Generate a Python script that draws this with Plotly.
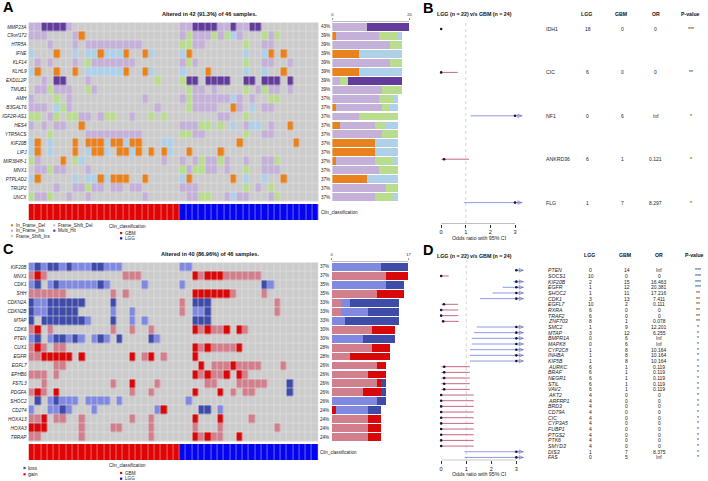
import plotly.graph_objects as go

W, H = 708, 481
FONT = "Liberation Sans"

# ---------- Panel A data ----------
GENES_A = ["MMP23A","C9orf172","HTR5A","IFNE","KLF14","KLHL9","EXD1L2P","TMUB1","AMH","B3GALT6",
           "IGF2R-AS1","HES4","YTR5ACS","KIF20B","LIPJ","MIR3648-1","MNX1","PTPLAD2","TRI1P2","UNCX"]
PCT_A = ["43%","39%","39%","39%","39%","39%","39%","39%","37%","37%","37%","37%","37%","37%","37%","37%","37%","37%","37%","37%"]
# D In_Frame_Del, I In_Frame_Ins, S Frame_Shift_Ins, F Frame_Shift_Del, M Multi_Hit
ONCO_A = [
 "I:0,1,6,24,25,30,31,33,34 M:2-5,26-29,32,35,36",
 "I:0-2,7,24,26-28,30,33,38 D:8 S:25,29,31,37,39 F:32",
 "I:3,7,9-17,26,27,37,38 S:24,25,34",
 "F:0,7,9,10,12-14,19,24,34,37 D:4,11,15,18,25,38,40",
 "I:1,3,7,10-16,24,26,37,38,41 S:9,25,34",
 "F:0,9-14,19,24,34,37 D:1,4,7,15,18,28,40",
 "I:2,9 M:4,5,25,26,28-31,34,35,37-39,41 S:20,24",
 "I:1,2,4-6,10,26,27,29,36,38,39,41 S:3,9,25,34,37",
 "I:0,6,18,24,26-31,33,35 S:4,25,38,39 F:32",
 "I:0-2,6,20,26-29,33,37,38 F:4,35 S:5,25 D:32",
 "S:0,1,4,6,7,12,13,19,21,34 I:3,8,9,11,16,30,31",
 "I:0,2,4,5,24-26,34,38 D:8,41 S:27,28,30 F:32,35,36",
 "S:3,24,25,34 I:9-17,26,27,37,38",
 "F:0,3,12,15,21,22 D:1,7,9-11,13,14,16,17,33,42",
 "F:0,3,9,12,16,22 D:1,7,10,11,14,15,17,19,21,25,30",
 "S:0,7,27,30,39 I:1,21,24,26,28,29,31,34,37,38 D:5 F:8",
 "I:1,2,4,5,9,25,28,29,31,37-39 S:3,24,26,27,34",
 "F:0,7,9,10,12,24,34,37 D:1,11,13-15,18,25,32,40",
 "I:4,7,8,10,11,13,14,16,17,24-26,36 S:9,34,38",
 "S:0,3,27,28,39 I:1,2,6,9,18,25,26,31,33,34,38 F:32",
]
BAR_A_DEL   = [0,1,0,7,0,7,0,0,0,1,0,2,0,11,11,1,0,9,0,0]
BAR_A_INS   = [9,11,15,0,15,0,2,13,12,12,7,9,13,0,0,10,12,0,14,11]
BAR_A_FSI   = [0,5,3,0,3,0,2,5,4,2,10,3,4,0,0,5,5,0,3,5]
BAR_A_FSD   = [0,1,0,11,0,11,0,0,1,2,0,3,0,6,6,1,0,8,0,1]
BAR_A_MULTI = [11,0,0,0,0,0,14,0,0,0,0,0,0,0,0,0,0,0,0,0]

# ---------- Panel C data ----------
GENES_C = ["KIF20B","MNX1","CDK1","SHH","CDKN2A","CDKN2B","MTAP","CDK6","PTEN","CUX1","EGFR","EGFL7",
           "EPHB6","FSTL3","PDGFA","SHOC2","CD274","HOXA13","HOXA3","TRRAP"]
PCT_C = ["37%","37%","35%","35%","33%","33%","33%","30%","30%","28%","28%","26%","26%","26%","26%","26%","24%","24%","24%","24%"]
# b shallow loss, B deep loss, r shallow gain, R deep gain
ONCO_C = [
 "b:0,2,5,7-9,12-14,24,25 B:1,3,4,6,10,11",
 "r:0,2,15-17,27,31-36 R:1,26,28-30",
 "b:0,3,5-10,12,18,24,38 B:1,4,11,37",
 "r:0-5,13,15,32,37 R:26-31",
 "B:0,3-8,13,26-28 b:1,2 r:24,39",
 "B:0,3-7,28 b:1,2,13,16,26,27 r:24,39",
 "B:0,2-8,13,26-28 b:9,16,18",
 "r:0,3,13,16,19,27,29,30,34 R:1,26,28,31,33",
 "b:0,3,6,8,10,12,20 B:1,4,5,7,11,14,19",
 "r:0,2,4,5,27,29-32 R:1,26,28,33",
 "r:0,1,18,21 R:2-6,8,16,19,26",
 "r:4,5,29-31,33-36,40 R:27,32",
 "r:0-2,4,27,29,30,34 R:26,28,31,33",
 "r:2,13,20,28,29,33-37 R:16 B:41",
 "r:0,2,16,19,32,34,35 R:1,4,26,30 B:41",
 "B:1,4 b:3,5-7,9-12,14,25",
 "b:0,3,4,6,10,20,30 B:5,27,28 R:21",
 "r:0,1,4,5,8,16,19,35 R:2,26,30",
 "R:0-2 r:8,13,14,19,26,30,39",
 "r:0,1,8,19,27,29,30 R:26,28,33",
]
BAR_C_R  = [0,12,0,10,2,2,0,9,0,9,4,10,8,10,7,0,0,8,8,8]
BAR_C_RR = [0,5,0,6,0,0,0,5,0,4,9,2,4,1,4,0,1,3,3,3]
BAR_C_B  = [11,0,12,0,2,6,3,0,7,0,0,0,0,0,0,10,7,0,0,0]
BAR_C_BB = [6,0,4,0,11,7,12,0,7,0,0,0,0,1,1,2,3,0,0,0]

CLIN = [0]*24 + [1]*22
N_SAMPLES = 46

# ---------- Panel B data ----------
B_GENE = ["IDH1","CIC","NF1","ANKRD36","FLG"]
B_LGG  = ["18","6","0","6","1"]
B_GBM  = ["0","0","6","1","7"]
B_OR   = ["0","0","Inf","0.121","8.297"]
B_P    = ["***","**","*","*","*"]
B_EST  = [0,0,3,0.12,3]
B_LO   = [0,0,1.2,0,0.92]
B_HI   = [0,0.67,3.3,1.13,3.3]

# ---------- Panel D data ----------
D_GENE = ["PTEN","SOCS1","KIF20B","EGFR","SHOC2","CDK1","EGFL7","RXRA","TRAF2","ZNF703","SMC2","MTAP","BMPR1A",
          "MAPK8","CYP2C8","INHBA","KIF5B","AURKC","BRAF","NEGR1","STIL","VAV2","AKT2","ARFRP1","BRD3","CD79A",
          "CIC","CYP3A5","FUBP1","PTGS2","PTK6","SMYD3","DIS3","FAS"]
D_LGG = [0,10,2,1,1,3,10,6,6,8,1,3,0,0,1,1,1,6,6,6,6,6,4,4,4,4,4,4,4,4,4,4,1,0]
D_GBM = [14,0,15,12,11,13,2,0,0,1,9,12,6,6,8,8,8,1,1,1,1,1,0,0,0,0,0,0,0,0,0,0,7,5]
D_OR  = ["Inf","0","16.463","20.381","17.216","7.411","0.111","0","0","0.078","12.201","6.255","Inf","Inf",
         "10.164","10.164","10.164","0.119","0.119","0.119","0.119","0.119","0","0","0","0","0","0","0","0","0","0","8.375","Inf"]
D_P   = ["***","***","***","***","**","**","**","**","**","**","*","*","*","*","*","*","*","*","*","*","*","*",
         "*","*","*","*","*","*","*","*","*","*","*","*"]
D_EST = [3,0,3,3,3,3,0.11,0,0,0.08,3,3,3,3,3,3,3,0.12,0.12,0.12,0.12,0.12,0,0,0,0,0,0,0,0,0,0,3,3]
D_LO  = [2.98,0,2.88,2.45,2.05,1.55,0.02,0,0,0.03,1.42,1.3,1.22,1.22,1.15,1.15,1.15,0,0,0,0,0,0,0,0,0,0,0,0,0,0,0,0.93,0.93]
D_HI  = [3.3,0.3,3.3,3.3,3.3,3.3,0.67,0.68,0.68,0.7,3.3,3.3,3.3,3.3,3.3,3.3,3.3,1.14,1.14,1.14,1.14,1.14,
         1.3,1.3,1.3,1.3,1.3,1.3,1.3,1.3,1.3,1.3,3.3,3.3]

LEG_A_1 = ["In_Frame_Del","In_Frame_Ins","Frame_Shift_Ins"]
LEG_A_2 = ["Frame_Shift_Del","Multi_Hit"]
LEG_C = ["loss","gain"]
LEG_CLIN = ["GBM","LGG"]

# ---------- Styles ----------
BG = "#cccccc"
COL_A = {"D":"#e8821e","I":"#c4b0d8","S":"#b9dd8e","F":"#aed0e8","M":"#623c9b"}
COL_C = {"b":"#8088e0","B":"#3f4ba8","r":"#d17f8c","R":"#d80808"}
CLIN_COL = ["#e00404","#0404f0"]
TXT = "#222222"

def dx(a, b): return [a / W, b / W]
def dy(top, bottom): return [1 - bottom / H, 1 - top / H]

def expand(spec, codes):
    row = [0] * N_SAMPLES
    for part in spec.split():
        code, idx = part.split(":")
        for it in idx.split(","):
            if "-" in it:
                s, e = it.split("-")
                rng = range(int(s), int(e) + 1)
            else:
                rng = [int(it)]
            for i in rng:
                row[i] = codes.index(code) + 1
    return row

def scale(cols):
    n = len(cols)
    out = []
    for i, c in enumerate(cols):
        out += [[i / n, c], [(i + 1) / n, c]]
    return out

fig = go.Figure()
layout = {}
annos = []
shapes = []

def ann(text, x, y, size=5, anchor="left", color=TXT, yref=None, bold=False, italic=False):
    if bold: text = f"<b>{text}</b>"
    if italic: text = f"<i>{text}</i>"
    annos.append(dict(text=text, x=x / W, xref="paper", xanchor=anchor,
                      y=(y if yref else 1 - y / H), yref=(yref or "paper"), yanchor="middle",
                      showarrow=False, borderpad=0, borderwidth=0,
                      font=dict(family=FONT, size=size, color=color)))

def swatch(x, y, color, r=1.1):
    shapes.append(dict(type="rect", xref="paper", yref="paper", x0=(x - r) / W, x1=(x + r) / W,
                       y0=1 - (y + r) / H, y1=1 - (y - r) / H, fillcolor=color, line_width=0))

def onco(n, genes, pct, specs, codes, colors, bars, title, x0, x1, top, bot, ctop, cbot, bx0, bx1, bmax, bax_y, title_x, title_y):
    xh, yh = f"x{n}", f"y{n}"
    xc, yc = f"x{n+1}", f"y{n+1}"
    xb, yb = f"x{n+2}", f"y{n+2}"
    z = [expand(s, codes) for s in specs]
    shapes.append(dict(type="rect", xref="paper", yref="paper", layer="below", x0=x0 / W, x1=x1 / W,
                       y0=1 - bot / H, y1=1 - top / H, fillcolor="#e6e6e6", line_width=0))
    fig.add_trace(go.Heatmap(z=z, y=genes, x=list(range(N_SAMPLES)), xaxis=xh, yaxis=yh, xgap=0.5, ygap=0.5,
                             zmin=-0.5, zmax=len(codes) + 0.5, showscale=False,
                             colorscale=scale([BG] + [colors[c] for c in codes])))
    layout[f"xaxis{n}"] = dict(domain=dx(x0, x1), anchor=yh, range=[-0.5, N_SAMPLES - 0.5], visible=False)
    layout[f"yaxis{n}"] = dict(domain=dy(top, bot), anchor=xh, autorange="reversed", type="category", ticks="",
                               showline=False, showgrid=False, zeroline=False, ticklabelstandoff=1,
                               tickfont=dict(family=FONT, size=4.7, color=TXT, style="italic"),
                               tickmode="array", tickvals=genes, ticktext=genes)
    fig.add_trace(go.Heatmap(z=[CLIN], x=list(range(N_SAMPLES)), xaxis=xc, yaxis=yc, xgap=0.4, ygap=0,
                             zmin=0, zmax=1, showscale=False, colorscale=scale(CLIN_COL)))
    layout[f"xaxis{n+1}"] = dict(domain=dx(x0, x1), anchor=yc, range=[-0.5, N_SAMPLES - 0.5], visible=False)
    layout[f"yaxis{n+1}"] = dict(domain=dy(ctop, cbot), anchor=xc, visible=False)
    for vals, col in bars:
        fig.add_trace(go.Bar(x=vals, y=genes, orientation="h", xaxis=xb, yaxis=yb,
                             marker=dict(color=col, line_width=0), width=0.88))
    layout[f"xaxis{n+2}"] = dict(domain=dx(bx0, bx1), anchor="free", position=1 - bax_y / H, side="top", range=[0, bmax],
                                 tickmode="array", tickvals=[0, bmax], ticks="outside", ticklen=2.5, tickwidth=0.6,
                                 tickcolor="#999999", showline=True, linecolor="#bdbdbd", linewidth=1.4,
                                 showgrid=False, zeroline=False, tickfont=dict(family=FONT, size=4, color=TXT))
    layout[f"yaxis{n+2}"] = dict(domain=dy(top, bot), anchor=xb, autorange="reversed", type="category",
                                 visible=False, categoryorder="array", categoryarray=genes)
    for g, p in zip(genes, pct):
        annos.append(dict(text=p, x=(x1 + 1) / W, xref="paper", xanchor="left", y=g, yref=yh, yanchor="middle",
                          showarrow=False, borderpad=0, font=dict(family=FONT, size=4.6, color=TXT)))
    ann("Clin_classification", x1 + 2, (ctop + cbot) / 2, 4.6)
    ann(title, title_x, title_y, 5.6, "center", "#111111", bold=True)

onco(1, GENES_A, PCT_A, ONCO_A, "DISFM", COL_A,
     [(BAR_A_DEL, COL_A["D"]), (BAR_A_INS, COL_A["I"]), (BAR_A_FSI, COL_A["S"]), (BAR_A_FSD, COL_A["F"]), (BAR_A_MULTI, COL_A["M"])],
     "Altered in 42 (91.3%) of 46 samples.", 26.7, 319, 22.4, 201.6, 204, 220, 332.7, 410.3, 20, 20.6, 209, 13.5)
onco(4, GENES_C, PCT_C, ONCO_C, "bBrR", COL_C,
     [(BAR_C_R, COL_C["r"]), (BAR_C_RR, COL_C["R"]), (BAR_C_B, COL_C["b"]), (BAR_C_BB, COL_C["B"])],
     "Altered in 40 (86.96%) of 46 samples.", 26.7, 318.5, 262.4, 441.7, 444, 460, 332, 409.3, 17, 260.6, 209, 253.7)

XMAX = 3.4

def forest(n, genes, lgg, gbm, ors, ps, est, lo, hi, x0, x3, top, bot, row0, step, cols, hdr, title_y, hdr_y, gene_italic, fs):
    xa, ya = f"x{n}", f"y{n}"
    rows = list(range(len(genes)))
    rng = [(bot - row0) / step, (top - row0) / step]
    x1 = x0 + (x3 - x0) * XMAX / 3
    common = dict(xaxis=xa, yaxis=ya, cliponaxis=False)
    fig.add_trace(go.Scatter(x=[0, 3], y=[rng[0], rng[0]], mode="lines", line=dict(color="#444444", width=0.7), **common))
    fig.add_trace(go.Scatter(x=[1, 1], y=rng, mode="lines", line=dict(color="#c8c8c8", width=0.8, dash="dot"), **common))
    for r in rows:
        left = est[r] < 1
        fig.add_trace(go.Scatter(x=[lo[r], hi[r]] if left else [lo[r], est[r]], y=[r, r], mode="lines",
                                 line=dict(color="#c9657e" if left else "#8d9be8", width=1), **common))
        if not left:
            fig.add_trace(go.Scatter(x=[est[r], hi[r]], y=[r, r], mode="lines", line=dict(color="#5a66b8", width=0.7), **common))
            fig.add_trace(go.Scatter(x=[hi[r] - 0.04], y=[r], mode="markers",
                                     marker=dict(symbol="arrow-right-open", size=3.6, color="#5a66b8",
                                                 line=dict(width=0.6, color="#5a66b8")), **common))
        fig.add_trace(go.Scatter(x=[est[r]], y=[r], mode="markers", marker=dict(color="#15153c", size=2.6, line_width=0), **common))
    layout[f"xaxis{n}"] = dict(domain=dx(x0, x1), anchor=ya, range=[0, XMAX], tickmode="array", tickvals=[0, 1, 2, 3],
                               ticks="outside", ticklen=2.5, tickwidth=0.6, tickcolor="#333333", showline=False,
                               showgrid=False, zeroline=False, tickfont=dict(family=FONT, size=5.6, color=TXT))
    layout[f"yaxis{n}"] = dict(domain=dy(top, bot), anchor=xa, range=rng, visible=False)
    ann("LGG (n = 22) v/s GBM (n = 24)", x0 - 4, title_y, 5.3, "left", "#111111", bold=True)
    ann("Odds ratio with 95% CI", (x0 + x3) / 2 + 0.5, bot + 13.7, 5.3, "center")
    for lab, x in zip(["LGG", "GBM", "OR", "P-value"], hdr):
        ann(lab, x, hdr_y, 5.2, "center", "#111111", bold=True)
    for r in rows:
        annos.append(dict(text=(f"<i>{genes[r]}</i>" if gene_italic else genes[r]), x=cols[0] / W, xref="paper", xanchor="left",
                          y=r, yref=ya, yanchor="middle", showarrow=False, borderpad=0,
                          font=dict(family=FONT, size=fs, color=TXT)))
        for val, x in zip([lgg[r], gbm[r], ors[r], ps[r]], cols[1:]):
            annos.append(dict(text=str(val), x=x / W, xref="paper", xanchor="center", y=r, yref=ya, yanchor="middle",
                              showarrow=False, borderpad=0, font=dict(family=FONT, size=fs - 0.2, color=TXT)))

forest(7, B_GENE, B_LGG, B_GBM, B_OR, B_P, B_EST, B_LO, B_HI, 442.3, 516.7, 22, 224, 29, 43.4,
       [546.7, 590, 625, 658.3, 694], [589, 623.7, 658.3, 693], 13.7, 13.7, False, 5.2)
forest(8, D_GENE, D_LGG, D_GBM, D_OR, D_P, D_EST, D_LO, D_HI, 442.3, 518, 260, 460.3, 270.3, 5.67,
       [548.7, 593, 629, 662, 700.7], [591.7, 627, 662, 697], 256, 255, True, 5.2)

# Legends
for lab, y, c in zip(LEG_A_1, [225.3, 230.7, 236], [COL_A["D"], COL_A["I"], COL_A["S"]]):
    swatch(10, y, c); ann(lab, 14, y, 4.6)
for lab, y, c in zip(LEG_A_2, [225.3, 230.7], [COL_A["F"], COL_A["M"]]):
    swatch(52.7, y, c); ann(lab, 56.7, y, 4.6)
ann("Clin_classification", 107.3, 226.3, 4.6)
for lab, y, c in zip(LEG_CLIN, [233, 238.3], CLIN_COL):
    swatch(120, y, c); ann(lab, 124, y, 4.6)
for lab, y, c in zip(LEG_C, [468, 474.3], [COL_C["B"], COL_C["R"]]):
    swatch(22.7, y, c); ann(lab, 26, y, 5)
ann("Clin_classification", 107.3, 465.7, 4.6)
for lab, y, c in zip(LEG_CLIN, [473, 478.7], CLIN_COL):
    swatch(120, y, c); ann(lab, 124, y, 4.6)

# Panel letters
for lab, x, y in [("A", 1, 7.3), ("B", 423.5, 7.6), ("C", 1.5, 248.6), ("D", 423.5, 249.6)]:
    ann(lab, x, y, 14.5, "left", "#000000", bold=True)

fig.update_layout(width=W, height=H, autosize=False, margin=dict(l=0, r=0, t=0, b=0, pad=0),
                  paper_bgcolor="white", plot_bgcolor="white", showlegend=False, barmode="stack",
                  annotations=annos, shapes=shapes, font=dict(family=FONT), **layout)
fig.write_html("out.html", config={"displayModeBar": False},
               post_script="document.body.style.margin='0';document.body.style.overflow='hidden';")
